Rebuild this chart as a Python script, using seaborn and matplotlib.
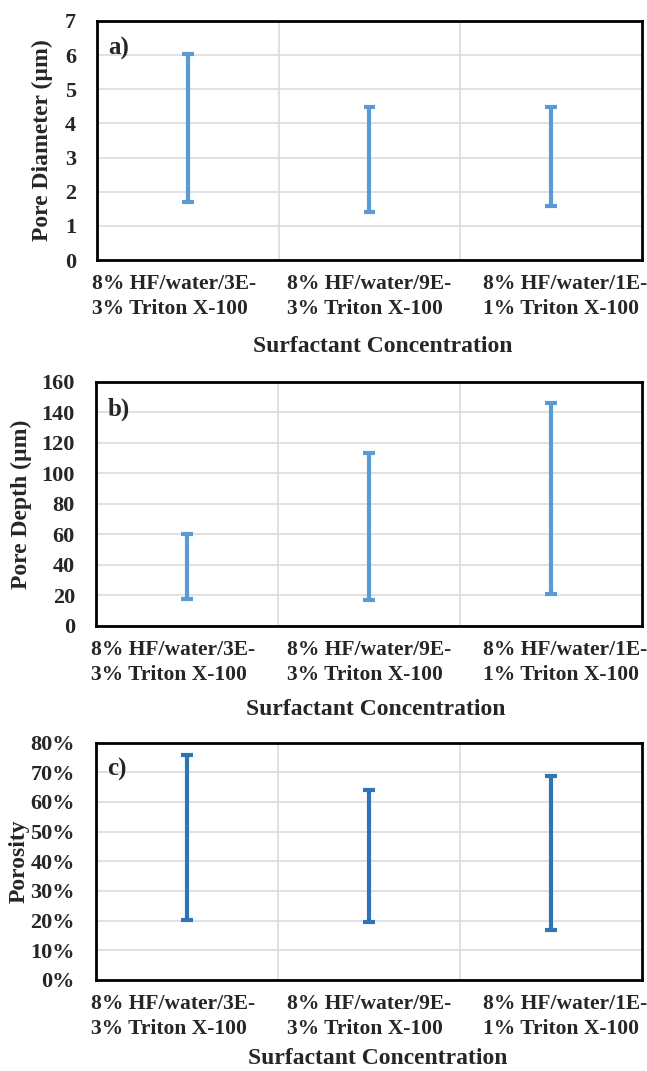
import pandas as pd
import numpy as np
import seaborn as sns
import matplotlib.pyplot as plt
import matplotlib.transforms as mtransforms
from matplotlib.ticker import PercentFormatter, MultipleLocator

# data (min / max of each range)
categories = ['8% HF/water/3E-\n3% Triton X-100',
              '8% HF/water/9E-\n3% Triton X-100',
              '8% HF/water/1E-\n1% Triton X-100']
diameter_min = [1.70, 1.40, 1.57]
diameter_max = [6.02, 4.48, 4.49]
depth_min = [18, 17, 21]
depth_max = [60, 113, 146]
porosity_min = [0.203, 0.197, 0.169]
porosity_max = [0.757, 0.642, 0.688]

sns.set_style('white')
plt.rcParams['font.family'] = ['Liberation Serif', 'DejaVu Serif']
plt.rcParams['font.weight'] = 'bold'
plt.rcParams['axes.labelweight'] = 'bold'

def long_form(lo, hi):
    return pd.DataFrame({'cat': categories * 2, 'val': list(lo) + list(hi)})

fig = plt.figure(figsize=(6.47, 10.71), dpi=100)
panels = [
    dict(rect=[0.150, 0.7572, 0.842, 0.2232], lo=diameter_min, hi=diameter_max,
         color='#5B9BD5', ymax=7, step=1, ylabel='Pore Diameter (\u00b5m)', tag='a)',
         ylab_x=-0.081, xlab=(0.525, -0.318)),
    dict(rect=[0.148, 0.4155, 0.844, 0.2281], lo=depth_min, hi=depth_max,
         color='#5B9BD5', ymax=160, step=20, ylabel='Pore Depth (\u00b5m)', tag='b)',
         ylab_x=-0.116, xlab=(0.512, -0.300)),
    dict(rect=[0.148, 0.0850, 0.844, 0.2216], lo=porosity_min, hi=porosity_max,
         color='#2E75B6', ymax=0.8, step=0.1, ylabel='Porosity', tag='c)',
         ylab_x=-0.121, xlab=(0.516, -0.286)),
]

# horizontal nudges of the category labels (pixels), as in the reference
label_shift = [-14, 0, 14]

for p in panels:
    ax = fig.add_axes(p['rect'])
    df = long_form(p['lo'], p['hi'])
    sns.pointplot(data=df, x='cat', y='val', errorbar=('pi', 100), estimator='mean',
                  color=p['color'], markers='', linestyles='none', capsize=0.065,
                  err_kws={'linewidth': 3.0, 'solid_capstyle': 'butt'}, ax=ax)
    ax.set_xlim(-0.5, 2.5)
    ax.set_ylim(0, p['ymax'])
    ax.yaxis.set_major_locator(MultipleLocator(p['step']))
    if p['tag'] == 'c)':
        ax.yaxis.set_major_formatter(PercentFormatter(1.0, decimals=0))
    ax.set_xticks([0.5, 1.5], minor=True)
    ax.grid(True, axis='y', which='major', color='#D9D9D9', linewidth=1.1)
    ax.grid(True, axis='x', which='minor', color='#D9D9D9', linewidth=1.1)
    ax.grid(False, axis='x', which='major')
    ax.set_axisbelow(True)
    for s in ax.spines.values():
        s.set_visible(True)
        s.set_color('black')
        s.set_linewidth(2.0)
    ax.tick_params(axis='both', which='both', length=0)
    ax.tick_params(axis='y', labelsize=16, pad=15)
    ax.tick_params(axis='x', labelsize=15.5, pad=10)
    ax.set_ylabel(p['ylabel'], fontsize=17, fontweight='bold')
    ax.set_xlabel('Surfactant Concentration', fontsize=17, fontweight='bold')
    ax.yaxis.set_label_coords(p['ylab_x'], 0.5)
    ax.xaxis.set_label_coords(*p['xlab'])
    ax.text(0.021, 0.935, p['tag'], transform=ax.transAxes, fontsize=18,
            fontweight='bold', va='top', ha='left')
    for lab, dx in zip(ax.get_xticklabels(), label_shift):
        lab.set_multialignment('left')
        lab.set_linespacing(1.35)
        lab.set_fontweight('bold')
        lab.set_transform(lab.get_transform() +
                          mtransforms.ScaledTranslation(dx / 100, 0, fig.dpi_scale_trans))
    for lab in ax.get_yticklabels():
        lab.set_fontweight('bold')

fig.savefig('out.png', dpi=100)
